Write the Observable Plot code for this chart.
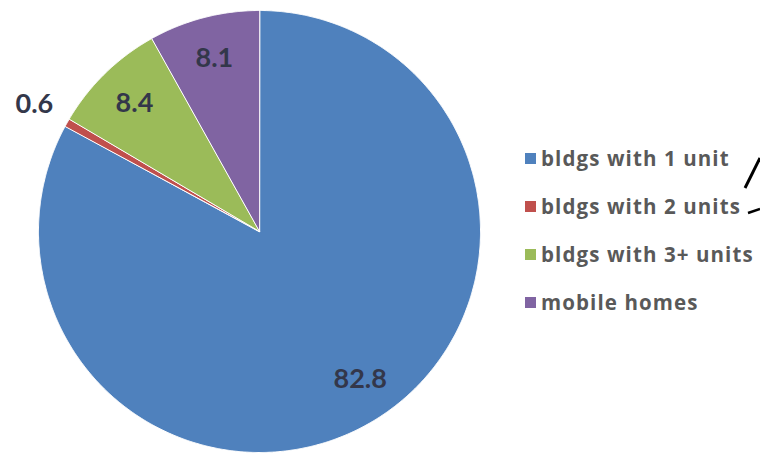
<!DOCTYPE html>
<html>
<head>
<meta charset="utf-8">
<script src="https://cdn.jsdelivr.net/npm/d3@7"></script>
<script src="https://cdn.jsdelivr.net/npm/@observablehq/plot@0.6"></script>
<style>
  html, body { margin: 0; padding: 0; background: #fff; }
  #wrap { position: relative; width: 760px; height: 453px; overflow: hidden; }
  #legend { position: absolute; left: 525px; top: 134px; font-family: "Open Sans", Lato, sans-serif; font-weight: 700; font-size: 20.5px; letter-spacing: 1.1px; color: #595959; }
  .row { height: 48px; display: flex; align-items: center; }
  .sw { width: 11px; height: 11px; margin-right: 5px; flex: none; }
  #annot { position: absolute; left: 0; top: 0; pointer-events: none; }
</style>
</head>
<body>
<div id="wrap">
  <div id="chart"></div>
  <div id="legend"></div>
  <svg id="annot" width="760" height="453">
    <line x1="745" y1="188" x2="760" y2="158" stroke="#000" stroke-width="3"/>
    <line x1="748" y1="213" x2="760" y2="209" stroke="#000" stroke-width="2.5"/>
  </svg>
</div>
<script>
// Data
const categories = ["bldgs with 1 unit", "bldgs with 2 units", "bldgs with 3+ units", "mobile homes"];
const values = [82.8, 0.6, 8.4, 8.1];
const colors = ["#4F81BD", "#C0504D", "#9BBB59", "#8064A2"];

// Compute slice angles (clockwise from 12 o'clock)
const pie = d3.pie().sort(null).value(d => d.value);
const arcs = pie(categories.map((c, i) => ({category: c, value: values[i]})));

// Slice outlines in unit-circle coordinates
const polys = [];
arcs.forEach(a => {
  const cat = a.data.category;
  polys.push({category: cat, x: 0, y: 0});
  const n = Math.max(2, Math.ceil((a.endAngle - a.startAngle) / 0.005));
  for (let k = 0; k <= n; k++) {
    const t = a.startAngle + (a.endAngle - a.startAngle) * k / n;
    polys.push({category: cat, x: Math.sin(t), y: Math.cos(t)});
  }
});

// Labels
const labels = arcs.map(a => {
  const m = (a.startAngle + a.endAngle) / 2;
  const r = a.data.value < 2 ? 1.17 : 0.81;
  const big = a.data.value > 50;
  const mm = big ? m - 0.06 : m;
  return {x: r * Math.sin(mm), y: r * Math.cos(mm), text: d3.format(".1f")(a.data.value)};
});

const cx = 259, cy = 231, R = 221;
const chart = Plot.plot({
  width: 760,
  height: 453,
  margin: 0,
  x: {domain: [-1, 1], range: [cx - R, cx + R], axis: null},
  y: {domain: [-1, 1], range: [cy + R, cy - R], axis: null},
  color: {domain: categories, range: colors},
  style: {background: "#fff"},
  marks: [
    Plot.line(polys, {x: "x", y: "y", z: "category", fill: "category", stroke: "#fff", strokeWidth: 1, curve: "linear-closed"}),
    Plot.text(labels, {x: "x", y: "y", text: "text", fontSize: 27, fontWeight: 700, fontFamily: "Lato, 'Open Sans', sans-serif", fill: "#33374a"})
  ]
});
document.getElementById("chart").appendChild(chart);

// Legend
const legend = document.getElementById("legend");
categories.forEach((c, i) => {
  const row = document.createElement("div");
  row.className = "row";
  const sw = document.createElement("span");
  sw.className = "sw";
  sw.style.background = colors[i];
  const tx = document.createElement("span");
  tx.textContent = c;
  row.appendChild(sw);
  row.appendChild(tx);
  legend.appendChild(row);
});
</script>
</body>
</html>
